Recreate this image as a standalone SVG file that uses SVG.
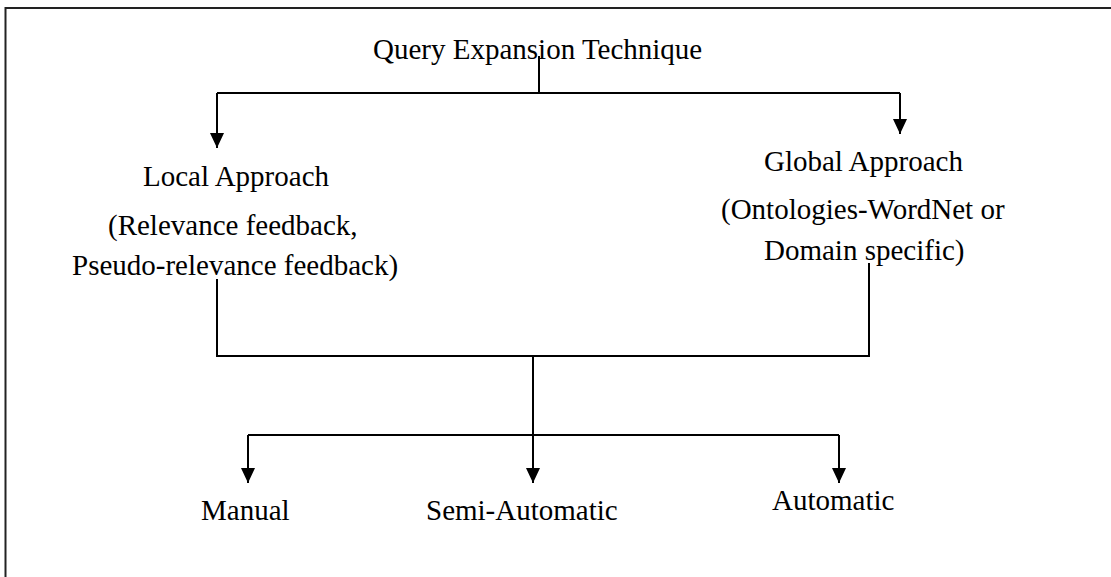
<svg xmlns="http://www.w3.org/2000/svg" width="1111" height="577" viewBox="0 0 1111 577">
<style>
  text { font-family: "Liberation Serif", "Times New Roman", serif; font-size: 29px; fill: #000; }
  .ln { fill: none; stroke: #000; stroke-width: 2; }
  .frame { fill: none; stroke: #222; stroke-width: 2; }
</style>
<defs>
  <marker id="arr" viewBox="0 0 15 14" refX="15" refY="7" markerWidth="15" markerHeight="14" markerUnits="userSpaceOnUse" orient="auto">
    <path d="M0,0 L15,7 L0,14 Z" fill="#000"/>
  </marker>
</defs>
<rect width="1111" height="577" fill="#fff"/>
<rect class="frame" x="5.5" y="8" width="1200" height="700"/>

<g id="connectors">
  <path class="ln" d="M539,56 V93"/>
  <path class="ln" d="M217,93 H900"/>
  <path class="ln" d="M217,93 V148" marker-end="url(#arr)"/>
  <path class="ln" d="M900,93 V134" marker-end="url(#arr)"/>
  <path class="ln" d="M217,279 V356 H869 V263"/>
  <path class="ln" d="M533,356 V483" marker-end="url(#arr)"/>
  <path class="ln" d="M248,435 H839"/>
  <path class="ln" d="M248,435 V483" marker-end="url(#arr)"/>
  <path class="ln" d="M839,435 V483" marker-end="url(#arr)"/>
</g>

<g id="node-root">
  <text x="373" y="59">Query Expansion Technique</text>
</g>
<g id="node-local">
  <text x="143" y="186">Local Approach</text>
  <text x="108" y="235">(Relevance feedback,</text>
  <text x="72" y="275">Pseudo-relevance feedback)</text>
</g>
<g id="node-global">
  <text x="764" y="171">Global Approach</text>
  <text x="721" y="219">(Ontologies-WordNet or</text>
  <text x="764" y="260">Domain specific)</text>
</g>
<g id="node-manual">
  <text x="201" y="520">Manual</text>
</g>
<g id="node-semi">
  <text x="426" y="520">Semi-Automatic</text>
</g>
<g id="node-auto">
  <text x="772" y="510">Automatic</text>
</g>
</svg>
